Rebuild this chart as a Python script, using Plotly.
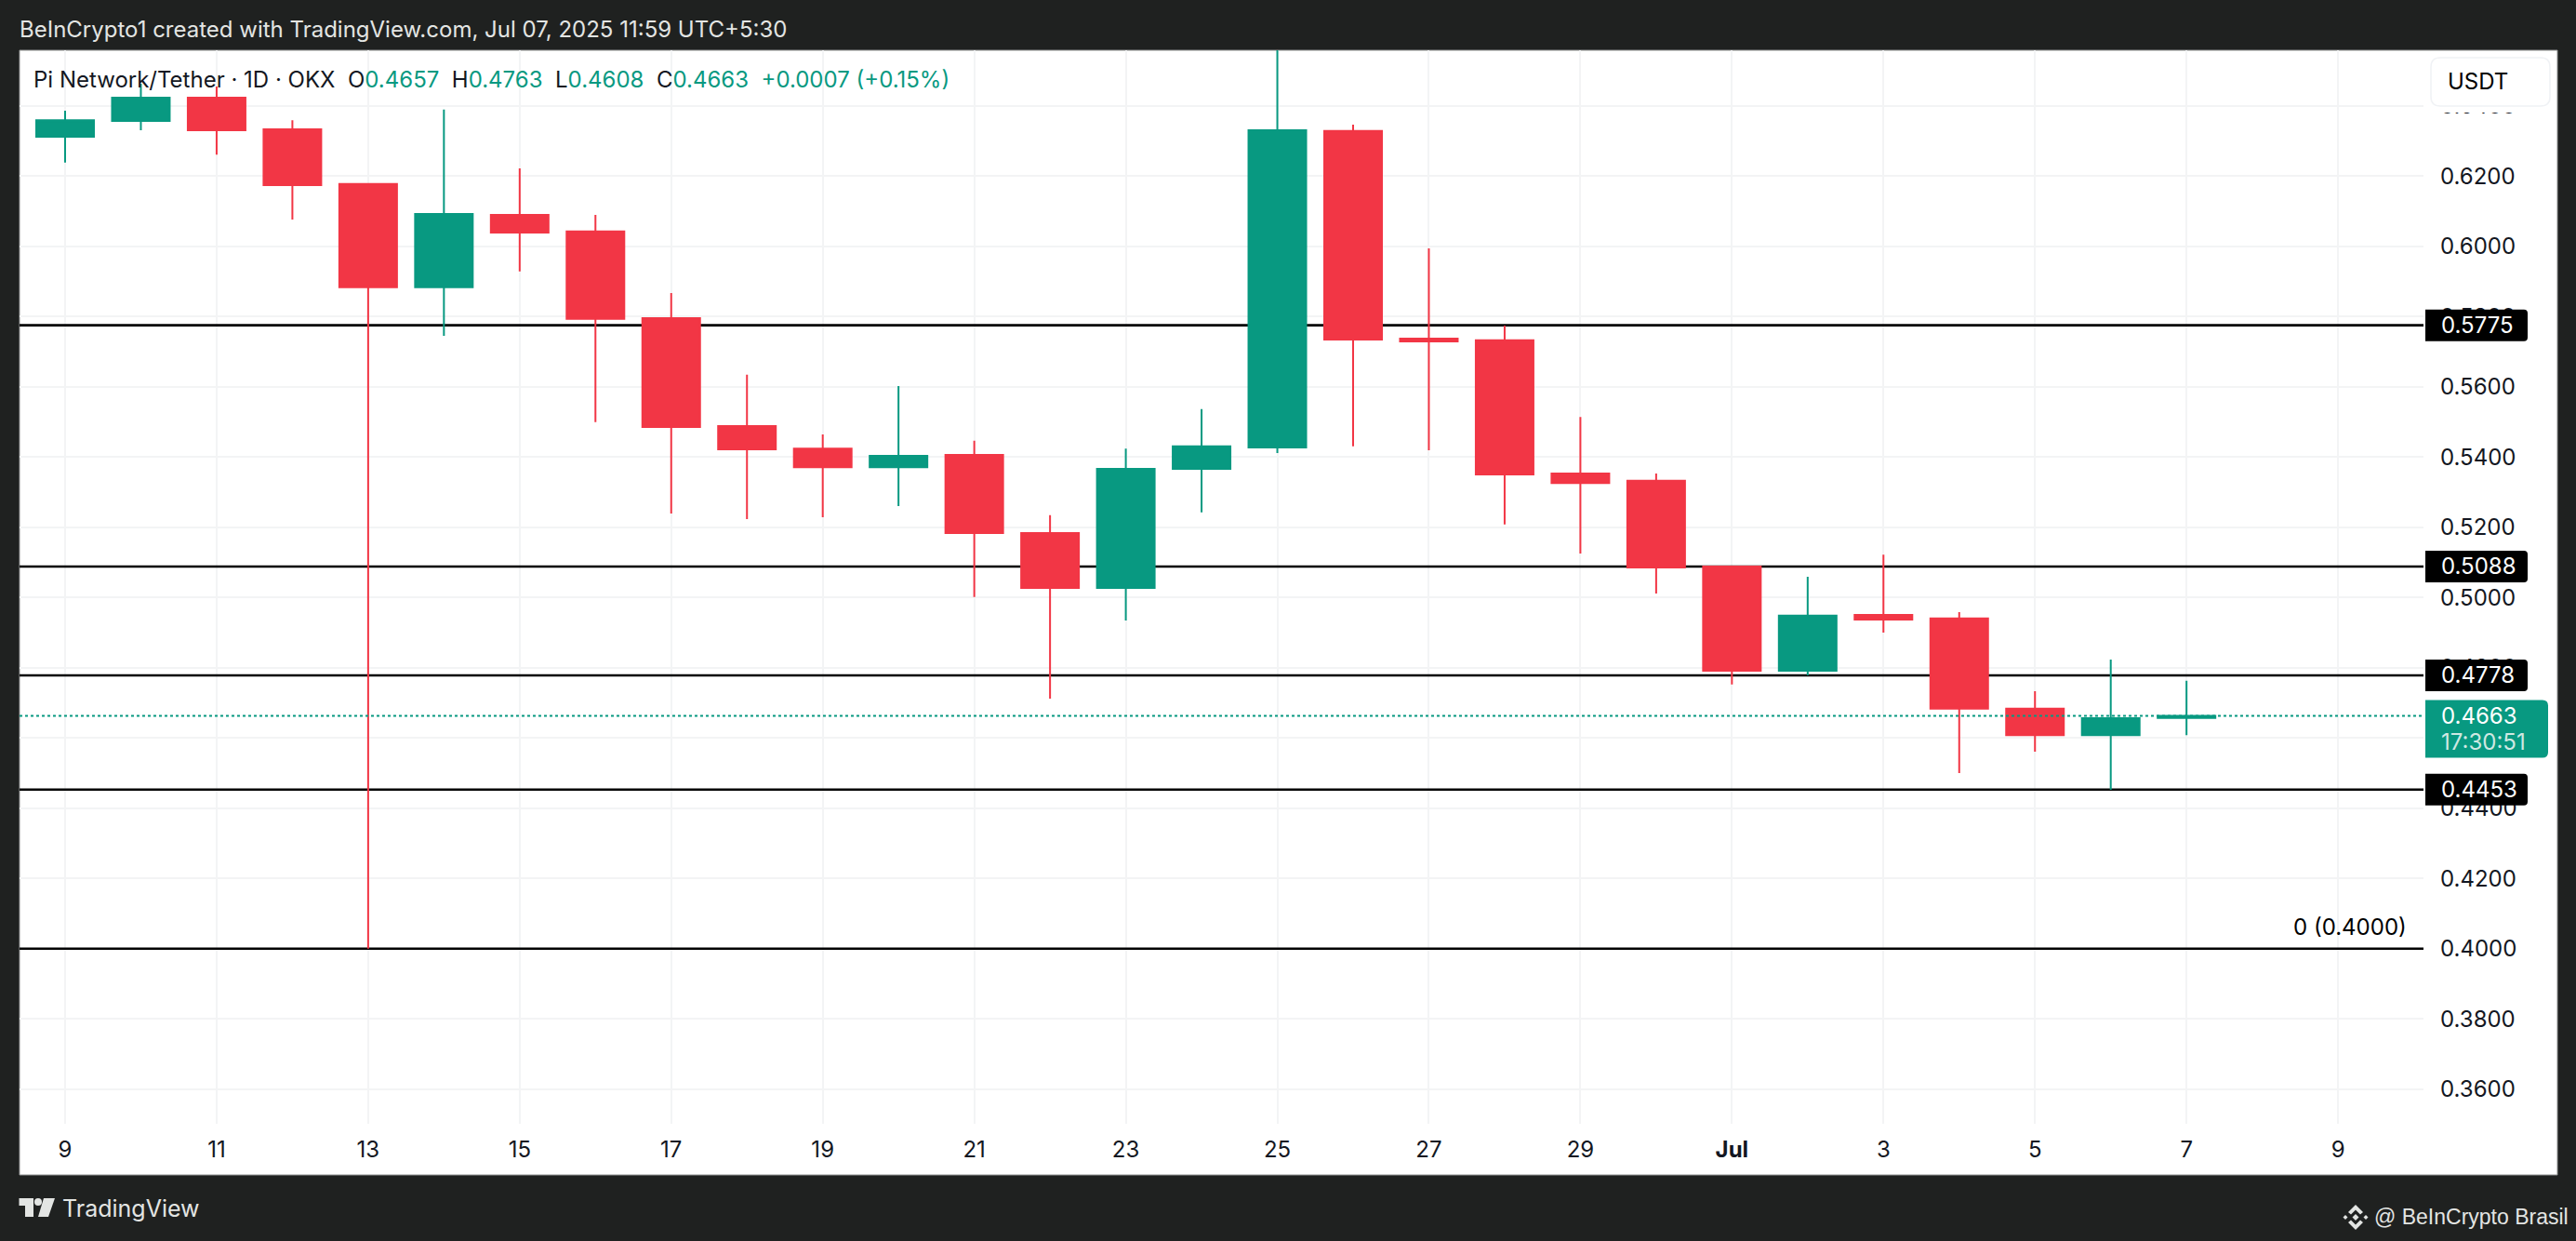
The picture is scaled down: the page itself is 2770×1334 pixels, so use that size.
import plotly.graph_objects as go

dates = ["2025-06-09","2025-06-10","2025-06-11","2025-06-12","2025-06-13","2025-06-14","2025-06-15","2025-06-16",
         "2025-06-17","2025-06-18","2025-06-19","2025-06-20","2025-06-21","2025-06-22","2025-06-23","2025-06-24",
         "2025-06-25","2025-06-26","2025-06-27","2025-06-28","2025-06-29","2025-06-30","2025-07-01","2025-07-02",
         "2025-07-03","2025-07-04","2025-07-05","2025-07-06","2025-07-07"]
opens  = [0.6312,0.6357,0.6423,0.6333,0.6177,0.5883,0.6089,0.6042,0.5795,0.5488,0.5424,0.5371,0.5406,0.5183,0.5027,
          0.5366,0.5427,0.6328,0.5737,0.5732,0.5353,0.5332,0.5088,0.4791,0.4950,0.4940,0.4683,0.4608,0.4657]
highs  = [0.6386,0.6463,0.6455,0.6359,0.6177,0.6389,0.6222,0.6089,0.5867,0.5634,0.5464,0.5602,0.5446,0.5234,0.5424,
          0.5536,0.6600,0.6346,0.5994,0.5774,0.5514,0.5353,0.5088,0.5059,0.5122,0.4958,0.4733,0.4823,0.4763]
lows   = [0.6238,0.6330,0.6261,0.6076,0.4000,0.5745,0.5928,0.5499,0.5239,0.5223,0.5228,0.5260,0.5001,0.4712,0.4934,
          0.5242,0.5411,0.5430,0.5419,0.5208,0.5125,0.5011,0.4752,0.4778,0.4900,0.4500,0.4561,0.4452,0.4608]
closes = [0.6359,0.6423,0.6330,0.6174,0.5883,0.6092,0.6039,0.5793,0.5485,0.5422,0.5371,0.5403,0.5183,0.5027,0.5366,
          0.5430,0.6330,0.5734,0.5729,0.5350,0.5326,0.5085,0.4791,0.4948,0.4937,0.4683,0.4608,0.4656,0.4663]

level_prices = [0.5775, 0.5088, 0.4778, 0.4453]
fib_price = 0.4000
last_price = 0.4663
countdown = "17:30:51"

x_tick_dates = ["2025-06-09","2025-06-11","2025-06-13","2025-06-15","2025-06-17","2025-06-19","2025-06-21","2025-06-23",
                "2025-06-25","2025-06-27","2025-06-29","2025-07-01","2025-07-03","2025-07-05","2025-07-07","2025-07-09"]
x_tick_labels = ["9","11","13","15","17","19","21","23","25","27","29","<b>Jul</b>","3","5","7","9"]
y_ticks = [0.36,0.38,0.40,0.42,0.44,0.46,0.48,0.50,0.52,0.54,0.56,0.58,0.60,0.62,0.64]

UP = "#089981"; DOWN = "#F23645"; BG = "#1F2120"; LIGHT = "#E3E5E3"; INK = "#131722"
FONT = "Inter"
W, H = 2770, 1334
L, T, R, B = 21, 54, 2606, 1208
XRANGE = ["2025-06-08 09:34", "2025-07-10 03:04"]
YRANGE = [0.35012, 0.65581]

def X(p): return (p - L) / (R - L)
def Y(p): return (B - p) / (B - T)
def price_px(v): return B - (v - YRANGE[0]) / (YRANGE[1] - YRANGE[0]) * (B - T)

def rr(x0, y0, x1, y1, r_left, r_right):
    """rounded rectangle path in paper coordinates, given in pixels"""
    a = [f"M{X(x0+r_left)},{Y(y0)}", f"L{X(x1-r_right)},{Y(y0)}",
         f"Q{X(x1)},{Y(y0)} {X(x1)},{Y(y0+r_right)}", f"L{X(x1)},{Y(y1-r_right)}",
         f"Q{X(x1)},{Y(y1)} {X(x1-r_right)},{Y(y1)}", f"L{X(x0+r_left)},{Y(y1)}",
         f"Q{X(x0)},{Y(y1)} {X(x0)},{Y(y1-r_left)}", f"L{X(x0)},{Y(y0+r_left)}",
         f"Q{X(x0)},{Y(y0)} {X(x0+r_left)},{Y(y0)}", "Z"]
    return " ".join(a)

def poly(pts):
    return "M" + " L".join(f"{X(a)},{Y(b)}" for a, b in pts) + " Z"

def paper_path(path, fill, layer="above", line=None):
    return dict(type="path", xref="paper", yref="paper", path=path, fillcolor=fill, layer=layer,
                line=dict(width=0) if line is None else line)

shapes = []
# white chart panel
shapes.append(dict(type="rect", xref="paper", yref="paper", x0=X(21), x1=X(2750), y0=Y(1263), y1=Y(54),
                   fillcolor="white", line=dict(color="#8f9190", width=1), layer="below"))
# horizontal levels, above grid and below candles
for v in level_prices + [fib_price]:
    shapes.append(dict(type="line", xref="x", yref="y", x0=XRANGE[0], x1=XRANGE[1], y0=v, y1=v,
                       line=dict(color="black", width=2.6), layer="between"))
# last price dotted line
shapes.append(dict(type="line", xref="x", yref="y", x0=XRANGE[0], x1=XRANGE[1], y0=last_price, y1=last_price,
                   line=dict(color=UP, width=2, dash="3px,3px"), layer="above"))
# USDT button mask and border
shapes.append(dict(type="rect", xref="paper", yref="paper", x0=X(2610), x1=X(2748), y0=Y(121), y1=Y(56),
                   fillcolor="white", line=dict(width=0), layer="above"))
shapes.append(paper_path(rr(2614, 62, 2742, 114, 10, 10), "white", line=dict(color="#F0F2F5", width=1.5)))
# price tags
for v in level_prices:
    c = price_px(v)
    shapes.append(paper_path(rr(2608, c-17, 2718, c+17, 0, 4), "black"))
c = price_px(last_price)
shapes.append(paper_path(rr(2608, c-17, 2740, c+45, 0, 6), UP))
# TradingView logo
shapes.append(paper_path(poly([(20.5,1288),(36,1288),(36,1308),(27,1308),(27,1296),(20.5,1296)]), LIGHT))
shapes.append(dict(type="circle", xref="paper", yref="paper", x0=X(37), x1=X(45), y0=Y(1296), y1=Y(1288),
                   fillcolor=LIGHT, line=dict(width=0), layer="above"))
shapes.append(paper_path(poly([(47,1288),(59,1288),(52,1308),(41,1308)]), LIGHT))
# Binance style badge
cx, cy = 2533, 1308.5
def diamond(x, y, r): return poly([(x-r,y),(x,y-r),(x+r,y),(x,y+r)])
shapes.append(paper_path(diamond(cx, cy, 3.5), LIGHT))
shapes.append(paper_path(diamond(cx-11, cy, 2.5), LIGHT))
shapes.append(paper_path(diamond(cx+11, cy, 2.5), LIGHT))
shapes.append(paper_path(poly([(cx,cy-13.5),(cx+8,cy-5.5),(cx+5,cy-3),(cx,cy-8),(cx-5,cy-3),(cx-8,cy-5.5)]), LIGHT))
shapes.append(paper_path(poly([(cx,cy+13.5),(cx+8,cy+5.5),(cx+5,cy+3),(cx,cy+8),(cx-5,cy+3),(cx-8,cy+5.5)]), LIGHT))

def note(text, px, py, size=24, color=INK, anchor="left", family=FONT):
    return dict(text=text, xref="paper", yref="paper", x=X(px), y=Y(py), xanchor=anchor, yanchor="middle",
                showarrow=False, font=dict(family=family, size=size, color=color), borderpad=0, borderwidth=0)

def g(s): return f'<span style="color:{UP}">{s}</span>'
nb = "\u00a0\u00a0"
header = (f"Pi Network/Tether · 1D · OKX{nb}O{g(f'{opens[-1]:.4f}')}{nb}H{g(f'{highs[-1]:.4f}')}"
          f"{nb}L{g(f'{lows[-1]:.4f}')}{nb}C{g(f'{closes[-1]:.4f}')}{nb}{g('+0.0007 (+0.15%)')}")

annotations = [
    note("BeInCrypto1 created with TradingView.com, Jul 07, 2025 11:59 UTC+5:30", 21, 32, size=24, color=LIGHT),
    note(header, 36, 86, size=24),
    note("USDT", 2632, 88, size=24, color="black"),
    note("0 (0.4000)", 2588, price_px(fib_price) - 23, size=24, color="black", anchor="right"),
    note("TradingView", 67, 1299, size=25, color=LIGHT),
    note("@ BeInCrypto Brasil", 2553, 1308, size=23, color=LIGHT, family="Liberation Sans"),
]
for v in level_prices:
    annotations.append(note(f"{v:.4f}", 2625, price_px(v), color="white"))
annotations.append(note(f"{last_price:.4f}", 2625, price_px(last_price), color="white"))
annotations.append(note(countdown, 2625, price_px(last_price) + 28, color="#CFE8E2"))

fig = go.Figure(go.Candlestick(
    x=dates, open=opens, high=highs, low=lows, close=closes, whiskerwidth=0,
    increasing=dict(line=dict(color=UP, width=2), fillcolor=UP),
    decreasing=dict(line=dict(color=DOWN, width=2), fillcolor=DOWN),
    showlegend=False, hoverinfo="skip"))

fig.update_layout(
    width=W, height=H, autosize=False, paper_bgcolor=BG, plot_bgcolor="white",
    margin=dict(l=L, t=T, r=W-R, b=H-B, pad=0), boxgap=0.239, boxgroupgap=0, showlegend=False,
    font=dict(family=FONT, size=24, color=INK), shapes=shapes, annotations=annotations,
    xaxis=dict(type="date", range=XRANGE, tickmode="array", tickvals=x_tick_dates, ticktext=x_tick_labels,
               showgrid=True, gridcolor="#F3F4F5", gridwidth=2, zeroline=False, showline=False, ticks="",
               rangeslider=dict(visible=False), tickangle=0, automargin=False, ticklabelstandoff=11,
               tickfont=dict(family=FONT, size=24, color=INK)),
    yaxis=dict(side="right", range=YRANGE, tickmode="array", tickvals=y_ticks,
               ticktext=[f"{v:.4f}" for v in y_ticks], showgrid=True, gridcolor="#F3F4F5", gridwidth=2,
               zeroline=False, showline=False, ticks="", automargin=False, ticklabelstandoff=17,
               tickfont=dict(family=FONT, size=24, color=INK)),
)

fig.write_html("out.html", config={"displayModeBar": False},
               post_script="document.body.style.margin='0';document.body.style.overflow='hidden';")
